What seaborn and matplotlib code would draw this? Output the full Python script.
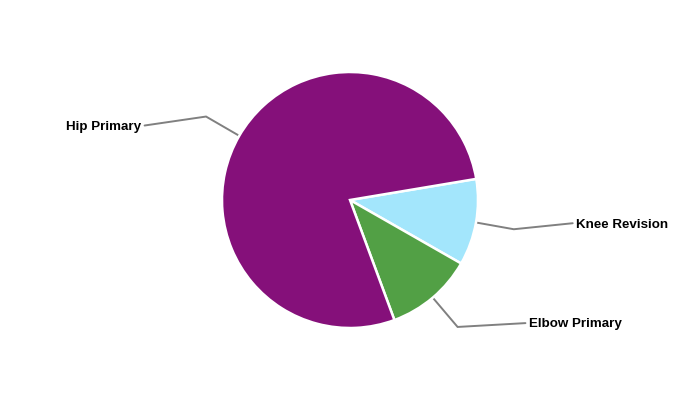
import numpy as np
import matplotlib
matplotlib.use("Agg")
import matplotlib.pyplot as plt
import seaborn as sns

# Data
labels = ["Knee Revision", "Elbow Primary", "Hip Primary"]
shares = [10.9, 11.1, 78.0]
colors = ["#a3e6fc", "#52a045", "#85107a"]

# leader line layout (horizontal run and vertical drift, in radius units)
leader_dx = [0.46, 0.53, -0.48]
leader_dy = [0.047, 0.03, -0.07]

sns.set_theme(style="white")
plt.rcParams["font.family"] = ["Liberation Sans", "DejaVu Sans"]

fig = plt.figure(figsize=(7, 4), dpi=100)
ax = fig.add_axes([0, 0, 1, 1])

wedges, _ = ax.pie(shares, colors=colors, startangle=9.5, counterclock=False,
                   radius=1.0, wedgeprops=dict(edgecolor="white", linewidth=1.8))

for w, lab, dx, dy in zip(wedges, labels, leader_dx, leader_dy):
    mid = np.deg2rad((w.theta1 + w.theta2) / 2)
    x0, y0 = np.cos(mid), np.sin(mid)
    x1, y1 = 1.3 * x0, 1.3 * y0
    x2, y2 = x1 + dx, y1 + dy
    ax.plot([x0, x1, x2], [y0, y1, y2], color="#808080", lw=1.4,
            solid_joinstyle="miter", zorder=0)
    ha = "left" if dx > 0 else "right"
    off = 0.025 if dx > 0 else -0.025
    ax.text(x2 + off, y2 - 0.01, lab, ha=ha, va="center", fontsize=9.6,
            fontweight="bold", color="black")

ax.set_xlim(-350 / 128, 350 / 128)
ax.set_ylim(-200 / 128, 200 / 128)
ax.set_aspect("equal")
ax.axis("off")

fig.savefig("out.png", dpi=100, facecolor="white")
